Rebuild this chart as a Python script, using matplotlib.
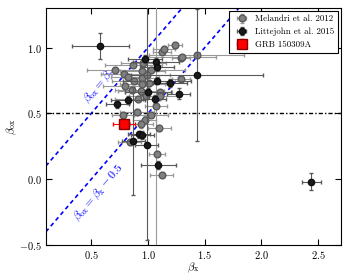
import matplotlib
matplotlib.use("Agg")
import matplotlib.pyplot as plt
import numpy as np

plt.rcParams["font.family"] = "serif"
plt.rcParams["font.serif"] = ["cmr10", "DejaVu Serif"]
plt.rcParams["mathtext.fontset"] = "cm"
plt.rcParams["axes.formatter.use_mathtext"] = True
plt.rcParams["axes.unicode_minus"] = True

# Melandri et al. 2012 (grey)
mel_bx = [1.24, 1.12, 1.14, 1.29, 0.96, 0.87, 0.71, 0.79, 0.95, 1.03, 0.82, 0.88,
          0.95, 0.99, 1.29, 0.80, 0.86, 0.95, 1.01, 0.95, 1.11, 0.98, 1.11, 0.91,
          0.94, 0.78, 0.90, 1.03, 0.97, 0.94, 1.10, 0.84, 1.08, 1.12, 1.43, 1.30, 1.07]
mel_box = [1.02, 0.97, 0.99, 0.92, 0.88, 0.87, 0.83, 0.80, 0.82, 0.83, 0.78, 0.75,
           0.77, 0.79, 0.76, 0.71, 0.68, 0.72, 0.73, 0.66, 0.66, 0.63, 0.63, 0.61,
           0.67, 0.49, 0.51, 0.49, 0.45, 0.42, 0.39, 0.28, 0.195, 0.035, 0.94, 0.93, 0.56]
mel_xerr = [0.06, 0.08, 0.10, 0.08, 0.20, 0.25, 0.25, 0.20, 0.20, 0.30, 0.15, 0.20,
            0.15, 0.20, 0.08, 0.20, 0.15, 0.20, 0.15, 0.15, 0.10, 0.15, 0.15, 0.20,
            0.20, 0.10, 0.15, 0.15, 0.10, 0.10, 0.10, 0.10, 0.07, 0.10, 0.42, 0.30, 0.10]
mel_yerr = [0.02, 0.02, 0.02, 0.02, 0.02, 0.02, 0.02, 0.02, 0.02, 0.02, 0.02, 0.02,
            0.02, 0.02, 0.02, 0.02, 0.02, 0.02, 0.02, 0.02, 0.02, 0.02, 0.02, 0.02,
            0.02, 0.02, 0.02, 0.02, 0.03, 0.03, 0.02, 0.02, 0.02, 0.02, 0.02, 0.02, 1.10]

# Littlejohn et al. 2015 (black)
lit_bx = [0.58, 0.97, 1.07, 1.08, 1.08, 1.19, 1.00, 1.27, 1.43, 0.73, 0.82, 1.06,
          0.92, 0.95, 0.87, 0.99, 1.09, 2.44]
lit_box = [1.01, 0.91, 0.89, 0.85, 0.75, 0.73, 0.66, 0.65, 0.79, 0.57, 0.60, 0.61,
           0.34, 0.335, 0.29, 0.26, 0.11, -0.02]
lit_xerr = [0.25, 0.15, 0.20, 0.15, 0.30, 0.15, 0.20, 0.10, 0.58, 0.10, 0.15, 0.10,
            0.10, 0.10, 0.10, 0.10, 0.155, 0.085]
lit_yerr_lo = [0.10, 0.03, 0.03, 0.03, 0.03, 0.03, 0.03, 0.04, 0.50, 0.03, 0.03, 0.03,
               0.03, 0.03, 0.41, 0.72, 0.03, 0.065]
lit_yerr_hi = [0.10, 0.03, 0.03, 0.03, 0.03, 0.03, 0.03, 0.04, 0.50, 0.03, 0.03, 0.03,
               0.03, 0.03, 0.41, 1.10, 0.03, 0.065]

# GRB 150309A
grb_bx = [0.79]
grb_box = [0.42]
grb_xerr = [0.095]
grb_yerr = [0.02]

fig = plt.figure(figsize=(3.5, 2.8), dpi=100)
ax = fig.add_axes([0.131, 0.125, 0.843, 0.846])

line_x = np.array([0.1, 2.7])
ax.plot(line_x, line_x, ls=(0, (2.5, 2)), color="blue", lw=1.2, zorder=1)
ax.plot(line_x, line_x - 0.5, ls=(0, (2.5, 2)), color="blue", lw=1.2, zorder=1)
ax.axhline(0.5, color="black", ls=(0, (3, 1.5, 1, 1.5)), lw=1.0, zorder=1)

ax.text(0.57, 0.71, r"$\beta_{\rm ox}=\beta_{\rm x}$", color="blue", rotation=49,
        ha="center", va="center", fontsize=8.5, zorder=0)
ax.text(0.57, -0.10, r"$\beta_{\rm ox}=\beta_{\rm x}-0.5$", color="blue", rotation=49,
        ha="center", va="center", fontsize=8.5, zorder=0)

ax.errorbar(mel_bx, mel_box, xerr=mel_xerr, yerr=mel_yerr, fmt="o", color="0.5",
            mec="0.35", ms=4.8, ecolor="0.6", elinewidth=0.8, capsize=1.5,
            label="Melandri et al. 2012", zorder=3)
ax.errorbar(lit_bx, lit_box, xerr=lit_xerr, yerr=[lit_yerr_lo, lit_yerr_hi], fmt="o",
            color="0.1", mec="0.05", ms=4.5, ecolor="0.35", elinewidth=0.8, capsize=1.5,
            label="Littejohn et al. 2015", zorder=4)
ax.errorbar(grb_bx, grb_box, xerr=grb_xerr, yerr=grb_yerr, fmt="s", color="red",
            mec="darkred", ms=7, ecolor="red", elinewidth=0.8, capsize=1.5,
            label="GRB 150309A", zorder=5)

ax.set_xlim(0.1, 2.7)
ax.set_ylim(-0.5, 1.3)
ax.set_xticks([0.5, 1.0, 1.5, 2.0, 2.5])
ax.set_yticks([-0.5, 0.0, 0.5, 1.0])
ax.tick_params(direction="in", top=True, right=True, length=4, labelsize=7.5, pad=3)
ax.set_xlabel(r"$\beta_{\rm x}$", fontsize=8, labelpad=0)
ax.set_ylabel(r"$\beta_{\rm ox}$", fontsize=8, labelpad=0)

leg = ax.legend(loc="upper right", fontsize=6.4, frameon=True, fancybox=False,
                edgecolor="black", framealpha=1, borderaxespad=0.3,
                handletextpad=0.5, borderpad=0.45, labelspacing=0.5)
leg.get_frame().set_linewidth(0.8)

fig.savefig("out.png", dpi=100)
